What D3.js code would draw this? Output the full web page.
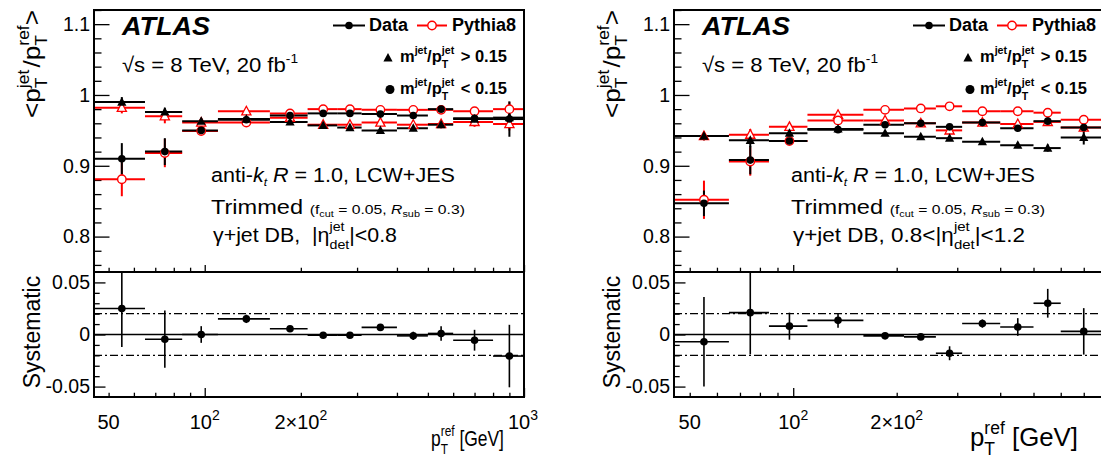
<!DOCTYPE html>
<html><head><meta charset="utf-8">
<script src="https://cdn.jsdelivr.net/npm/d3@7"></script>
<style>body{margin:0;background:#fff} svg{display:block} text{white-space:pre}</style>
</head><body><svg id="c" width="1101" height="463"></svg>
<script>
// ---------- data ----------
const binLo = [45, 65, 85, 110, 160, 210, 260, 310, 400, 500, 600, 800];
const binHi = [65, 85, 110, 160, 210, 260, 310, 400, 500, 600, 800, 1000];
const binX  = [55, 75, 97.5, 135, 185, 235, 285, 355, 450, 550, 700, 900];

// |eta| < 0.8
const dataTriL  = [0.990, 0.976, 0.963, 0.966, 0.962, 0.957, 0.954, 0.950, 0.953, 0.958, 0.966, 0.968];
const dataTriEL = [0.007, 0.006, 0.004, 0.003, 0.003, 0.003, 0.003, 0.003, 0.004, 0.005, 0.007, 0.012];
const mcTriL    = [0.982, 0.970, 0.961, 0.977, 0.968, 0.958, 0.958, 0.961, 0.958, 0.959, 0.962, 0.959];
const mcTriEL   = [0.008, 0.010, 0.004, 0.004, 0.003, 0.003, 0.003, 0.004, 0.004, 0.005, 0.007, 0.009];
const dataCirL  = [0.910, 0.920, 0.950, 0.965, 0.971, 0.974, 0.974, 0.973, 0.971, 0.980, 0.967, 0.966];
const dataCirEL = [0.022, 0.019, 0.005, 0.004, 0.003, 0.003, 0.003, 0.003, 0.004, 0.005, 0.008, 0.025];
const mcCirL    = [0.881, 0.918, 0.949, 0.961, 0.974, 0.980, 0.980, 0.979, 0.979, 0.979, 0.977, 0.980];
const mcCirEL   = [0.024, 0.020, 0.005, 0.004, 0.003, 0.003, 0.003, 0.003, 0.004, 0.005, 0.006, 0.010];
const sysL      = [0.025, -0.0045, 0.000, 0.015, 0.0055, -0.0007, -0.0007, 0.0068, -0.0013, 0.001, -0.0055, -0.0207];
const sysEL     = [0.037, 0.0275, 0.008, 0.004, 0.002, 0.002, 0.002, 0.002, 0.004, 0.007, 0.010, 0.030];

// 0.8 < |eta| < 1.2
const dataTriR  = [0.942, 0.936, 0.946, 0.952, 0.946, 0.941, 0.939, 0.934, 0.929, 0.925, 0.940];
const dataTriER = [0.006, 0.010, 0.006, 0.003, 0.003, 0.003, 0.003, 0.003, 0.004, 0.005, 0.010];
const mcTriR    = [0.942, 0.944, 0.955, 0.972, 0.964, 0.960, 0.950, 0.961, 0.959, 0.962, 0.954];
const mcTriER   = [0.006, 0.008, 0.005, 0.004, 0.003, 0.003, 0.003, 0.003, 0.004, 0.004, 0.006];
const dataCirR  = [0.847, 0.908, 0.935, 0.951, 0.958, 0.960, 0.955, 0.961, 0.953, 0.963, 0.954];
const dataCirER = [0.018, 0.020, 0.004, 0.003, 0.003, 0.003, 0.003, 0.003, 0.004, 0.004, 0.006];
const mcCirR    = [0.852, 0.906, 0.935, 0.964, 0.979, 0.981, 0.984, 0.977, 0.977, 0.975, 0.965];
const mcCirER   = [0.027, 0.020, 0.004, 0.003, 0.003, 0.003, 0.003, 0.003, 0.003, 0.004, 0.005];
const sysR      = [-0.007, 0.021, 0.008, 0.0136, -0.0013, -0.0023, -0.018, 0.0105, 0.0072, 0.030, 0.003];
const sysER     = [0.043, 0.040, 0.013, 0.007, 0.002, 0.003, 0.0067, 0.004, 0.0085, 0.0138, 0.0223];

const yTopMajor = [0.8, 0.9, 1.0, 1.1];
const yBotMajor = [-0.05, 0, 0.05];
const xMajor = [100, 1000];
const xMinor = [50, 60, 70, 80, 90, 200, 300, 400, 500, 600, 700, 800, 900];

// ---------- drawing ----------
const FONT = '"Liberation Sans", Arial, Helvetica, sans-serif';
const RED = '#ff0000';
const svg = d3.select('#c');
svg.append('rect').attr('width', 1101).attr('height', 463).attr('fill', '#fff');

function rich(parent, x, y, parts, opt = {}) {
  const outer = parent.append('g').attr('transform', `translate(${x},${y})` + (opt.rotate ? ` rotate(${opt.rotate})` : ''));
  const g = outer.append('g');
  let cx = 0, prevX = 0;
  for (const p of parts) {
    const t = g.append('text').text(p.t).attr('font-size', p.s).attr('font-family', FONT).attr('fill', p.c || '#000');
    if (p.b) t.attr('font-weight', 'bold');
    if (p.i) t.attr('font-style', 'italic');
    const w = t.node().getComputedTextLength();
    const px = p.stack ? prevX : cx + (p.dx || 0);
    t.attr('x', px).attr('y', p.dy || 0);
    if (p.stack) cx = Math.max(cx, px + w);
    else { prevX = px; cx = px + w; }
  }
  const sx = opt.width ? opt.width / cx : 1;
  let shift = 0;
  if (opt.anchor === 'middle') shift = -cx / 2; else if (opt.anchor === 'end') shift = -cx;
  g.attr('transform', `scale(${sx},1) translate(${shift},0)`);
  return cx;
}

const triPath = 'M0,-5 L4.6,3.6 L-4.6,3.6 Z';

function drawPanel(P) {
  const x = d3.scaleLog().domain([45, 1000]).range([P.x0, P.x1]);
  const yT = d3.scaleLinear().domain([0.75, 1.12]).range([272, 10]);
  const yB = d3.scaleLinear().domain([-0.06, 0.06]).range([397, 272]);
  const root = svg.append('g');
  const n = P.dataTri.length;
  const lo = binLo.slice(0, n), hi = binHi.slice(0, n), xs = binX.slice(0, n);

  const cidT = 'clipT' + P.id, cidB = 'clipB' + P.id;
  const defs = root.append('defs');
  defs.append('clipPath').attr('id', cidT).append('rect').attr('x', P.x0).attr('y', 10).attr('width', P.x1 - P.x0).attr('height', 262);
  defs.append('clipPath').attr('id', cidB).append('rect').attr('x', P.x0).attr('y', 272).attr('width', P.x1 - P.x0).attr('height', 125);

  const styleAxis = g => { g.select('.domain').remove(); g.selectAll('line').attr('stroke', '#000').attr('stroke-width', 1.3); g.selectAll('text').attr('font-family', FONT).attr('fill', '#000'); };
  // ---- axes top ----
  root.append('g').attr('transform', `translate(${P.x0},0)`)
    .call(d3.axisLeft(yT).tickValues(yTopMajor).tickSizeInner(-15.5).tickSizeOuter(0).tickPadding(4)
      .tickFormat(d => d === 1 ? '1' : d3.format('.1f')(d)))
    .call(styleAxis).call(g => g.selectAll('text').attr('font-size', 19.5));
  root.append('g').attr('transform', `translate(${P.x0},0)`)
    .call(d3.axisLeft(yT).tickValues(d3.range(0.76, 1.121, 0.02).filter(v => Math.abs(v * 10 - Math.round(v * 10)) > 1e-6)).tickSizeInner(-7.5).tickSizeOuter(0).tickFormat(''))
    .call(styleAxis);
  root.append('g').attr('transform', `translate(0,272)`)
    .call(d3.axisBottom(x).tickValues(xMajor).tickSizeInner(-7).tickSizeOuter(0).tickFormat(''))
    .call(styleAxis);
  root.append('g').attr('transform', `translate(0,272)`)
    .call(d3.axisBottom(x).tickValues(xMinor).tickSizeInner(-4.3).tickSizeOuter(0).tickFormat(''))
    .call(styleAxis);

  // ---- axes bottom ----
  root.append('g').attr('transform', `translate(${P.x0},0)`)
    .call(d3.axisLeft(yB).tickValues(yBotMajor).tickSizeInner(-11.5).tickSizeOuter(0).tickPadding(4)
      .tickFormat(d => d === 0 ? '0' : d3.format('.2f')(d).replace('−', '-')))
    .call(styleAxis).call(g => g.selectAll('text').attr('font-size', 19.5));
  root.append('g').attr('transform', `translate(${P.x0},0)`)
    .call(d3.axisLeft(yB).tickValues([-0.04, -0.03, -0.02, -0.01, 0.01, 0.02, 0.03, 0.04]).tickSizeInner(-5.7).tickSizeOuter(0).tickFormat(''))
    .call(styleAxis);
  root.append('g').attr('transform', `translate(0,397)`)
    .call(d3.axisBottom(x).tickValues(xMajor).tickSizeInner(-9).tickSizeOuter(0).tickFormat(''))
    .call(styleAxis);
  root.append('g').attr('transform', `translate(0,397)`)
    .call(d3.axisBottom(x).tickValues(xMinor).tickSizeInner(-4.3).tickSizeOuter(0).tickFormat(''))
    .call(styleAxis);

  // x tick labels
  const lb = 428.5;
  rich(root, x(50), lb, [{ t: '50', s: 20 }], { anchor: 'middle' });
  rich(root, x(100), lb, [{ t: '10', s: 20 }, { t: '2', s: 14, dy: -9 }], { anchor: 'middle' });
  rich(root, x(200), lb, [{ t: '2×10', s: 20 }, { t: '2', s: 14, dy: -9 }], { anchor: 'middle' });
  if (P.show1000) rich(root, 508, lb, [{ t: '10', s: 20 }, { t: '3', s: 14, dy: -9 }]);

  // ---- bottom panel content ----
  const gb = root.append('g').attr('clip-path', `url(#${cidB})`);
  gb.append('line').attr('x1', P.x0).attr('x2', P.x1).attr('y1', yB(0)).attr('y2', yB(0)).attr('stroke', '#000').attr('stroke-width', 1.5);
  [0.02, -0.02].forEach(v => gb.append('line').attr('x1', P.x0).attr('x2', P.x1).attr('y1', yB(v)).attr('y2', yB(v))
    .attr('stroke', '#000').attr('stroke-width', 1.3).attr('stroke-dasharray', '8,3,2,3'));
  const sys = P.sys, sysE = P.sysE;
  gb.selectAll(null).data(sys).join('line').attr('x1', (d, i) => x(lo[i])).attr('x2', (d, i) => x(hi[i]))
    .attr('y1', d => yB(d)).attr('y2', d => yB(d)).attr('stroke', '#000').attr('stroke-width', 1.6);
  gb.selectAll(null).data(sys).join('line').attr('x1', (d, i) => x(xs[i])).attr('x2', (d, i) => x(xs[i]))
    .attr('y1', (d, i) => yB(d - sysE[i])).attr('y2', (d, i) => yB(d + sysE[i])).attr('stroke', '#000').attr('stroke-width', 1.6);
  gb.selectAll(null).data(sys).join('circle').attr('cx', (d, i) => x(xs[i])).attr('cy', d => yB(d)).attr('r', 3.8).attr('fill', '#000');

  // ---- top panel content ----
  const gt = root.append('g').attr('clip-path', `url(#${cidT})`);
  function lines(vals, errs, color) {
    gt.selectAll(null).data(vals).join('line').attr('x1', (d, i) => x(lo[i])).attr('x2', (d, i) => x(hi[i]))
      .attr('y1', d => yT(d)).attr('y2', d => yT(d)).attr('stroke', color).attr('stroke-width', 2);
    gt.selectAll(null).data(vals).join('line').attr('x1', (d, i) => x(xs[i])).attr('x2', (d, i) => x(xs[i]))
      .attr('y1', (d, i) => yT(d - errs[i])).attr('y2', (d, i) => yT(d + errs[i])).attr('stroke', color).attr('stroke-width', 2);
  }
  lines(P.mcTri, P.mcTriE, RED);
  lines(P.mcCir, P.mcCirE, RED);
  lines(P.dataTri, P.dataTriE, '#000');
  lines(P.dataCir, P.dataCirE, '#000');
  gt.selectAll(null).data(P.mcTri).join('path').attr('d', triPath)
    .attr('transform', (d, i) => `translate(${x(xs[i])},${yT(d)})`).attr('fill', '#fff').attr('stroke', RED).attr('stroke-width', 1.3);
  gt.selectAll(null).data(P.mcCir).join('circle').attr('cx', (d, i) => x(xs[i])).attr('cy', d => yT(d))
    .attr('r', 4.2).attr('fill', '#fff').attr('stroke', RED).attr('stroke-width', 1.4);
  gt.selectAll(null).data(P.dataTri).join('path').attr('d', triPath)
    .attr('transform', (d, i) => `translate(${x(xs[i])},${yT(d)})`).attr('fill', '#000');
  gt.selectAll(null).data(P.dataCir).join('circle').attr('cx', (d, i) => x(xs[i])).attr('cy', d => yT(d))
    .attr('r', 3.8).attr('fill', '#000');

  // ---- frames ----
  root.append('rect').attr('x', P.x0).attr('y', 10).attr('width', P.x1 - P.x0).attr('height', 262)
    .attr('fill', 'none').attr('stroke', '#000').attr('stroke-width', 2);
  root.append('rect').attr('x', P.x0).attr('y', 272).attr('width', P.x1 - P.x0).attr('height', 125)
    .attr('fill', 'none').attr('stroke', '#000').attr('stroke-width', 2);

  // ---- texts ----
  const o = P.x0;
  rich(root, o + 28, 35, [{ t: 'ATLAS', s: 25, b: true, i: true }], { width: 88 });
  rich(root, o + 28, 71.5, [{ t: '√s = 8 TeV, 20 fb', s: 21 }, { t: '-1', s: 13, dy: -9 }], { width: 176 });
  // legend
  root.append('line').attr('x1', o + 239).attr('x2', o + 271).attr('y1', 25.5).attr('y2', 25.5).attr('stroke', '#000').attr('stroke-width', 2);
  root.append('circle').attr('cx', o + 255).attr('cy', 25.5).attr('r', 3.8).attr('fill', '#000');
  rich(root, o + 275, 31, [{ t: 'Data', s: 18, b: true }]);
  root.append('line').attr('x1', o + 323).attr('x2', o + 353).attr('y1', 25.5).attr('y2', 25.5).attr('stroke', RED).attr('stroke-width', 2);
  root.append('circle').attr('cx', o + 338).attr('cy', 25.5).attr('r', 4.2).attr('fill', '#fff').attr('stroke', RED).attr('stroke-width', 1.4);
  rich(root, o + 358, 31, [{ t: 'Pythia8', s: 18, b: true }]);
  root.append('path').attr('d', triPath).attr('transform', `translate(${o + 294},58)`).attr('fill', '#000');
  const mLab = sign => [{ t: 'm', s: 17, b: true }, { t: 'jet', s: 11, b: true, dy: -8 }, { t: '/p', s: 17, b: true },
    { t: 'jet', s: 11, b: true, dy: -8 }, { t: 'T', s: 11, b: true, dy: 6, stack: true }, { t: ' ' + sign + ' 0.15', s: 17, b: true, dx: 2 }];
  rich(root, o + 306, 62, mLab('>'), { width: 107 });
  root.append('circle').attr('cx', o + 296).attr('cy', 89.5).attr('r', 4.5).attr('fill', '#000');
  rich(root, o + 306, 94, mLab('<'), { width: 107 });

  rich(root, o + 117, 181.5, [{ t: 'anti-', s: 19.5 }, { t: 'k', s: 19.5, i: true }, { t: 't', s: 11, i: true, dy: 4 },
    { t: ' ', s: 19.5 }, { t: 'R', s: 19.5, i: true }, { t: ' = 1.0, LCW+JES', s: 19.5 }], { width: 244 });
  rich(root, o + 117, 213.5, [{ t: 'Trimmed ', s: 19.5 }, { t: '(f', s: 13 }, { t: 'cut', s: 9, dy: 3 }, { t: ' = 0.05, ', s: 13 },
    { t: 'R', s: 13, i: true }, { t: 'sub', s: 9, dy: 3 }, { t: ' = 0.3)', s: 13 }], { width: 254 });
  rich(root, o + 119, 241.5, [{ t: 'γ+jet DB, ' + P.etaPre, s: 19.5 }, { t: '|η', s: 19.5 }, { t: 'jet', s: 13, dy: -11 },
    { t: 'det', s: 13, dy: 7, stack: true }, { t: '|<' + P.etaMax, s: 19.5 }], { width: P.etaWidth });

  // axis titles
  rich(root, o - 54, 64, [{ t: '<', s: 24 }, { t: 'p', s: 24 }, { t: 'jet', s: 16, dy: -11 }, { t: 'T', s: 16, dy: 7, stack: true },
    { t: '/', s: 24, dx: 2 }, { t: 'p', s: 24 }, { t: 'ref', s: 16, dy: -11 }, { t: 'T', s: 16, dy: 7, stack: true }, { t: '>', s: 24 }],
    { rotate: -90, anchor: 'middle', width: 108 });
  rich(root, o - 54, 332, [{ t: 'Systematic', s: 23 }], { rotate: -90, anchor: 'middle' });
  rich(root, P.titleEnd, 446, [{ t: 'p', s: P.titleSize }, { t: 'ref', s: P.titleSize * 0.68, dy: -P.titleSize * 0.45 },
    { t: 'T', s: P.titleSize * 0.68, dy: P.titleSize * 0.35, stack: true }, { t: ' [GeV]', s: P.titleSize }], { anchor: 'end', width: P.titleWidth });
}

drawPanel({ id: 'L', x0: 94, x1: 524, dataTri: dataTriL, dataTriE: dataTriEL, mcTri: mcTriL, mcTriE: mcTriEL,
  dataCir: dataCirL, dataCirE: dataCirEL, mcCir: mcCirL, mcCirE: mcCirEL, sys: sysL, sysE: sysEL,
  etaPre: ' ', etaMax: '0.8', etaWidth: 184, show1000: true, titleEnd: 504, titleSize: 22, titleWidth: 73 });
drawPanel({ id: 'R', x0: 674, x1: 1137, dataTri: dataTriR, dataTriE: dataTriER, mcTri: mcTriR, mcTriE: mcTriER,
  dataCir: dataCirR, dataCirE: dataCirER, mcCir: mcCirR, mcCirE: mcCirER, sys: sysR, sysE: sysER,
  etaPre: '0.8<', etaMax: '1.2', etaWidth: 232, show1000: false, titleEnd: 1078, titleSize: 26, titleWidth: 108 });
</script></body></html>
